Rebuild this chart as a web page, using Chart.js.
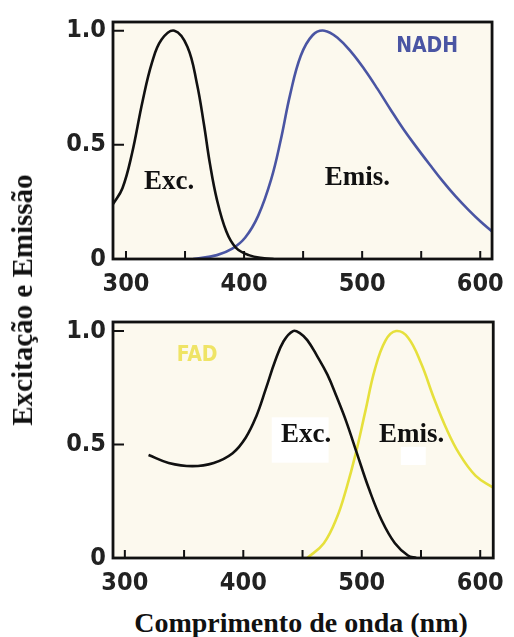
<!DOCTYPE html>
<html>
<head>
<meta charset="utf-8">
<script src="https://cdn.jsdelivr.net/npm/chart.js@4"></script>
<style>
  html, body { margin: 0; padding: 0; background: #fff; }
  #wrap { position: relative; width: 514px; height: 637px; overflow: hidden; }
  .panel { position: absolute; left: 0; width: 514px; height: 300px; }
  #panel-nadh { top: 0; }
  #panel-fad { top: 300px; }
  .axis-title {
    position: absolute;
    font-family: "Liberation Serif", "Times New Roman", serif;
    font-weight: bold;
    font-size: 28px;
    line-height: 32px;
    color: #111;
    white-space: nowrap;
  }
  #y-title { left: 22px; top: 300px; font-size: 29px; transform: translate(-50%, -50%) rotate(-90deg); }
  #x-title { left: 301px; top: 623px; transform: translate(-50%, -50%); }
</style>
</head>
<body>
<div id="wrap">
  <div class="panel" id="panel-nadh"><canvas id="chart-nadh" width="514" height="300"></canvas></div>
  <div class="panel" id="panel-fad"><canvas id="chart-fad" width="514" height="300"></canvas></div>
  <div class="axis-title" id="y-title">Excitação e Emissão</div>
  <div class="axis-title" id="x-title">Comprimento de onda (nm)</div>
</div>
<script>
"use strict";

// ─── Spectra (wavelength nm / normalised intensity) ───────────────────────

const nadhExcNm  = [289, 297, 305, 314, 322, 330, 341, 352, 360, 366, 371, 377, 385, 393, 404, 417, 425];
const nadhExcVal = [0.24, 0.31, 0.46, 0.69, 0.86, 0.96, 1.00, 0.93, 0.77, 0.59, 0.42, 0.26, 0.12, 0.05, 0.017, 0.003, 0];

const nadhEmNm  = [357, 377, 390, 401, 412, 423, 431, 439, 448, 458, 468, 480, 491, 502, 513, 524, 535, 546, 557, 568, 579, 590, 600, 610];
const nadhEmVal = [0, 0.017, 0.045, 0.094, 0.19, 0.35, 0.52, 0.72, 0.89, 0.98, 1.00, 0.965, 0.905, 0.83, 0.745, 0.655, 0.568, 0.49, 0.415, 0.342, 0.275, 0.215, 0.165, 0.12];

const fadExcNm  = [320, 337, 357, 375, 391, 402, 411, 419, 427, 434, 442, 448, 454, 462, 471, 479, 487, 496, 506, 517, 528, 539, 546];
const fadExcVal = [0.454, 0.419, 0.405, 0.419, 0.462, 0.53, 0.625, 0.745, 0.87, 0.955, 1.00, 0.99, 0.96, 0.893, 0.808, 0.708, 0.60, 0.46, 0.306, 0.164, 0.065, 0.011, 0];

const fadEmNm  = [454, 468, 479, 487, 495, 503, 511, 520, 529, 539, 550, 561, 571, 582, 596, 611];
const fadEmVal = [0, 0.065, 0.178, 0.306, 0.462, 0.646, 0.83, 0.958, 1.00, 0.972, 0.859, 0.703, 0.575, 0.462, 0.363, 0.31];

const yTickValues = [0, 0.5, 1.0];
const xTickStep   = 50;

// ─── Styling ──────────────────────────────────────────────────────────────

const BG         = "#fcf9ee";
const INK        = "#111111";
const NADH_BLUE  = "#4a55a3";
const FAD_YELLOW = "#e6e03c";
const TICK_FONT  = { family: "'DejaVu Sans Condensed', 'DejaVu Sans', sans-serif", size: 25, weight: "bold" };
const SERIF      = "bold 27px 'Liberation Serif', 'Times New Roman', serif";
const TAG_FONT   = "bold 21px 'DejaVu Sans Condensed', 'DejaVu Sans', sans-serif";

function toPoints(xs, ys) {
  return xs.map((x, i) => ({ x, y: ys[i] }));
}

// cream plot area, white label patches, closed frame and inward ticks
const panelFrame = {
  id: "panelFrame",
  beforeDraw(chart) {
    const { ctx, chartArea: a } = chart;
    ctx.save();
    ctx.fillStyle = BG;
    ctx.fillRect(a.left, a.top, a.width, a.height);
    ctx.restore();
  },
  beforeDatasetsDraw(chart, args, opts) {
    const { ctx, scales: { x, y } } = chart;
    ctx.save();
    ctx.fillStyle = "#ffffff";
    (opts.patches || []).forEach((p) => {
      const x0 = x.getPixelForValue(p.x0), x1 = x.getPixelForValue(p.x1);
      const y0 = y.getPixelForValue(p.y0), y1 = y.getPixelForValue(p.y1);
      ctx.fillRect(x0, y0, x1 - x0, y1 - y0);
    });
    ctx.restore();
  },
  afterDatasetsDraw(chart) {
    const { ctx, chartArea: a, scales: { x, y } } = chart;
    ctx.save();
    ctx.strokeStyle = INK;
    ctx.lineWidth = 2.8;
    ctx.strokeRect(a.left, a.top, a.width, a.height);
    ctx.lineWidth = 2;
    ctx.beginPath();
    x.ticks.forEach((t) => {
      const px = x.getPixelForValue(t.value);
      ctx.moveTo(px, a.bottom);
      ctx.lineTo(px, a.bottom - 8);
    });
    y.ticks.forEach((t) => {
      if (t.value === 0) return;
      const py = y.getPixelForValue(t.value);
      ctx.moveTo(a.left, py);
      ctx.lineTo(a.left + 11, py);
    });
    ctx.stroke();
    ctx.restore();
  },
};

// text tags placed in data coordinates
const panelLabels = {
  id: "panelLabels",
  afterDatasetsDraw(chart, args, opts) {
    const { ctx, scales: { x, y } } = chart;
    ctx.save();
    ctx.textAlign = "center";
    ctx.textBaseline = "alphabetic";
    (opts.items || []).forEach((it) => {
      ctx.font = it.font;
      ctx.fillStyle = it.color;
      ctx.fillText(it.text, x.getPixelForValue(it.x), y.getPixelForValue(it.y));
    });
    ctx.restore();
  },
};

function makePanel(canvasId, cfg) {
  return new Chart(document.getElementById(canvasId).getContext("2d"), {
    type: "line",
    data: {
      datasets: cfg.series.map((s) => ({
        data: s.data,
        borderColor: s.color,
        borderWidth: 2.6,
        pointRadius: 0,
        fill: false,
        tension: 0.4,
      })),
    },
    options: {
      responsive: false,
      animation: false,
      layout: { padding: { top: cfg.top, right: 9, left: 0, bottom: 0 } },
      scales: {
        x: {
          type: "linear",
          min: cfg.xMin,
          max: cfg.xMax,
          grid: { display: false, drawTicks: false },
          border: { display: false },
          afterFit: (scale) => { scale.height = cfg.xAxisHeight; },
          ticks: {
            stepSize: xTickStep,
            includeBounds: false,
            autoSkip: false,
            maxRotation: 0,
            padding: 10,
            color: "#222",
            font: TICK_FONT,
            callback: (v) => (v % 100 === 0 ? String(v) : ""),
          },
        },
        y: {
          type: "linear",
          min: 0,
          max: cfg.yMax,
          grid: { display: false, drawTicks: false },
          border: { display: false },
          afterFit: (scale) => { scale.width = 113; },
          afterBuildTicks: (scale) => {
            scale.ticks = yTickValues.map((v) => ({ value: v }));
          },
          ticks: {
            padding: 7,
            color: "#222",
            font: TICK_FONT,
            callback: (v) => (v === 0 ? "0" : v.toFixed(1)),
          },
        },
      },
      plugins: {
        legend: { display: false },
        tooltip: { enabled: false },
        panelFrame: { patches: cfg.patches || [] },
        panelLabels: { items: cfg.labels },
      },
    },
    plugins: [panelFrame, panelLabels],
  });
}

// ─── NADH ─────────────────────────────────────────────────────────────────

makePanel("chart-nadh", {
  top: 14,
  xAxisHeight: 41,
  xMin: 289,
  xMax: 610,
  yMax: 1.038,
  series: [
    { data: toPoints(nadhExcNm, nadhExcVal), color: INK },
    { data: toPoints(nadhEmNm, nadhEmVal), color: NADH_BLUE },
  ],
  labels: [
    { text: "Exc.",  x: 336.5, y: 0.305, font: SERIF, color: INK },
    { text: "Emis.", x: 496,   y: 0.326, font: SERIF, color: INK },
    { text: "NADH",  x: 555,   y: 0.907, font: TAG_FONT, color: NADH_BLUE },
  ],
});

// ─── FAD ──────────────────────────────────────────────────────────────────

makePanel("chart-fad", {
  top: 14,
  xAxisHeight: 42,
  xMin: 290,
  xMax: 611,
  yMax: 1.04,
  series: [
    { data: toPoints(fadExcNm, fadExcVal), color: INK },
    { data: toPoints(fadEmNm, fadEmVal), color: FAD_YELLOW },
  ],
  patches: [
    { x0: 424, x1: 472, y0: 0.62, y1: 0.42 },
    { x0: 533, x1: 554, y0: 0.49, y1: 0.41 },
  ],
  labels: [
    { text: "FAD",   x: 361, y: 0.866, font: TAG_FONT, color: "#efe466" },
    { text: "Exc.",  x: 453, y: 0.513, font: SERIF, color: INK },
    { text: "Emis.", x: 542, y: 0.513, font: SERIF, color: INK },
  ],
});
</script>
</body>
</html>
